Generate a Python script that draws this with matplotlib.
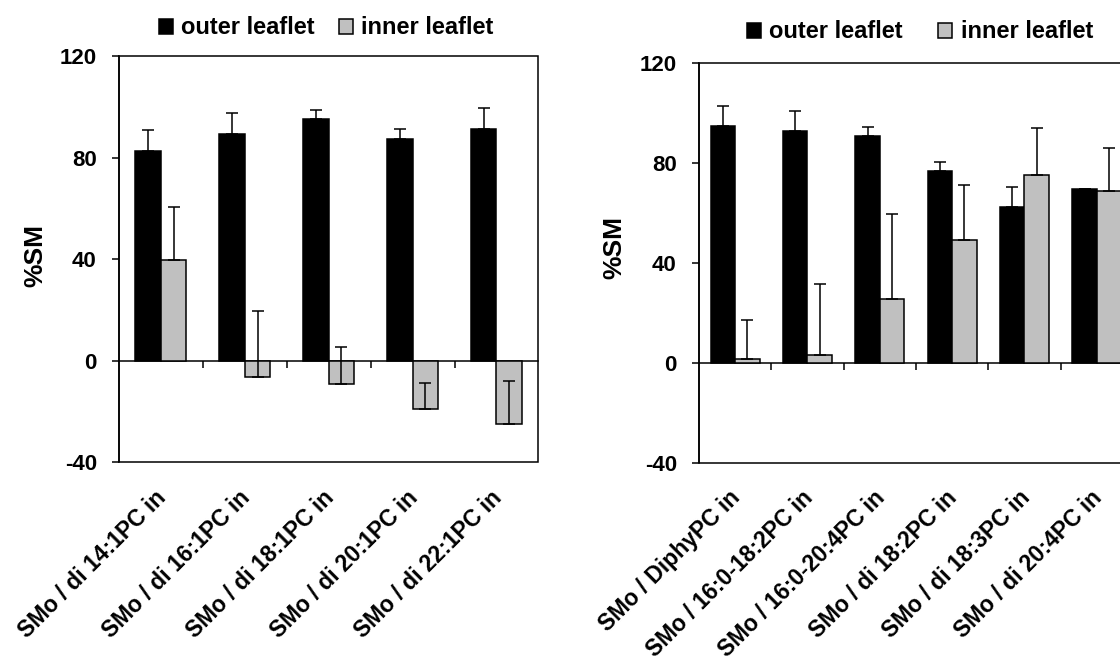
import numpy as np
import matplotlib.pyplot as plt
from matplotlib.patches import Patch, Rectangle
from matplotlib.transforms import ScaledTranslation

plt.rcParams['font.family'] = ['Liberation Sans', 'DejaVu Sans']
plt.rcParams['font.weight'] = 'bold'
plt.rcParams['axes.unicode_minus'] = False

# monounsaturated di-PC series
labels_a = ['SMo / di 14:1PC in', 'SMo / di 16:1PC in', 'SMo / di 18:1PC in',
            'SMo / di 20:1PC in', 'SMo / di 22:1PC in']
outer_a = [82.7, 89.4, 95.2, 87.4, 91.3]
outer_err_a = [8.1, 8.1, 3.6, 3.7, 8.2]
inner_a = [39.6, -6.3, -9.3, -19.1, -24.9]
inner_err_a = [20.9, 25.9, 14.6, 10.2, 16.9]

# polyunsaturated / branched PC series
labels_b = ['SMo / DiphyPC in', 'SMo / 16:0-18:2PC in', 'SMo / 16:0-20:4PC in',
            'SMo / di 18:2PC in', 'SMo / di 18:3PC in', 'SMo / di 20:4PC in']
outer_b = [94.8, 92.7, 90.8, 76.8, 62.4, 69.6]
outer_err_b = [7.8, 7.9, 3.6, 3.6, 7.9, 0.0]
inner_b = [1.4, 3.2, 25.6, 49.1, 75.0, 68.7]
inner_err_b = [15.7, 28.2, 33.9, 22.0, 18.8, 17.2]

GREY = '#c0c0c0'
LW = 1.1


def panel(ax, labels, outer, outer_err, inner, inner_err, width, leg_x, leg_y, colsp):
    n = len(labels)
    x = np.arange(n)
    ekw = dict(ecolor='black', elinewidth=LW, capsize=4, capthick=LW, zorder=4)
    ax.bar(x - width / 2, outer, width, color='black', edgecolor='black', linewidth=LW, zorder=3)
    ax.bar(x + width / 2, inner, width, color=GREY, edgecolor='black', linewidth=LW, zorder=3)
    # only the upper half of the error bars is drawn
    ax.errorbar(x - width / 2, outer, yerr=[np.zeros(n), outer_err], fmt='none', **ekw)
    ax.errorbar(x + width / 2, inner, yerr=[np.zeros(n), inner_err], fmt='none', **ekw)

    ax.set_xlim(-0.5, n - 0.5)
    ax.set_ylim(-40, 120)
    ax.set_yticks([-40, 0, 40, 80, 120])
    ax.tick_params(axis='y', direction='out', length=5, width=LW, pad=11, labelsize=16)

    # category axis crosses at zero, ticks between the groups
    ax.spines['bottom'].set_position(('data', 0))
    ax.spines['bottom'].set_linewidth(LW)
    ax.spines['left'].set_linewidth(LW)
    ax.spines['top'].set_visible(False)
    ax.spines['right'].set_visible(False)
    ax.set_xticks(np.arange(0.5, n - 0.5))
    ax.set_xticklabels([])
    ax.tick_params(axis='x', direction='out', length=5, width=LW)
    ax.add_patch(Rectangle((0, 0), 1, 1, transform=ax.transAxes, fill=False,
                           edgecolor='black', linewidth=LW, clip_on=False, zorder=5))

    sec = ax.secondary_xaxis('bottom')
    sec.set_xticks(x, labels, rotation=45, ha='right', va='top',
                   rotation_mode='anchor', fontsize=16.5, fontweight='bold')
    sec.tick_params(length=0, pad=17)
    sec.spines['bottom'].set_visible(False)
    shift = ScaledTranslation(-0.065, 0, ax.figure.dpi_scale_trans)
    for lab in sec.get_xticklabels():
        lab.set_transform(lab.get_transform() + shift)

    handles = [Patch(facecolor='black', edgecolor='black', linewidth=LW),
               Patch(facecolor=GREY, edgecolor='black', linewidth=LW)]
    ax.legend(handles, ['outer leaflet', 'inner leaflet'], ncol=2, loc='center',
              bbox_to_anchor=(leg_x, leg_y), frameon=False,
              prop=dict(size=17, weight='bold'), handlelength=0.6, handleheight=0.6,
              handletextpad=0.35, columnspacing=colsp)


fig = plt.figure(figsize=(11.2, 6.56), dpi=100)
ax1 = fig.add_axes([0.1063, 0.2951, 0.3744, 0.6195])
ax2 = fig.add_axes([0.6241, 0.2947, 0.3875, 0.6097])

panel(ax1, labels_a, outer_a, outer_err_a, inner_a, inner_err_a, 0.304, 0.494, 1.069, 1.0)
panel(ax2, labels_b, outer_b, outer_err_b, inner_b, inner_err_b, 0.337, 0.509, 1.077, 1.5)

ax1.text(-0.2, 0.51, '%SM', transform=ax1.transAxes, rotation=90,
         ha='center', va='center', fontsize=19, fontweight='bold')
ax2.text(-0.196, 0.537, '%SM', transform=ax2.transAxes, rotation=90,
         ha='center', va='center', fontsize=19, fontweight='bold')

fig.savefig('out.png', dpi=100)
